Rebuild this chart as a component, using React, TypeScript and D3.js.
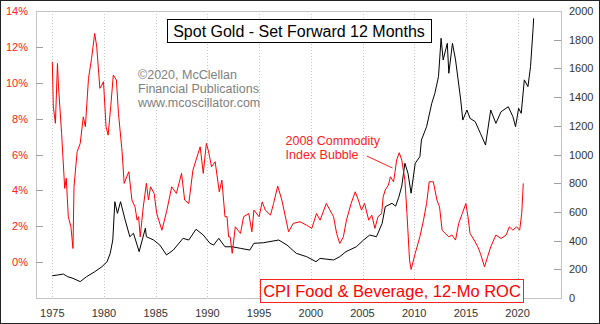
import React from "react";
import * as d3 from "d3";

const goldDates = [1975.0,1975.5,1976.07,1976.5,1977.0,1977.7,1978.3,1979.1,1979.8,1980.3,1980.6,1980.85,1981.05,1981.3,1981.6,1982.05,1982.5,1982.85,1983.4,1984.0,1984.1,1984.8,1985.4,1986.05,1986.7,1987.65,1988.2,1988.9,1989.6,1990.25,1990.6,1991.1,1991.7,1992.4,1993.2,1994.1,1994.5,1995.4,1996.9,1997.7,1998.6,1999.6,2000.5,2000.9,2002.2,2002.8,2003.4,2004.4,2005.1,2005.7,2006.35,2006.9,2007.2,2007.85,2008.2,2008.5,2008.8,2009.1,2009.4,2009.7,2010.1,2010.55,2010.7,2011.2,2011.7,2012.0,2012.35,2012.6,2012.8,2013.2,2013.35,2013.7,2014.0,2014.5,2014.7,2015.1,2015.4,2015.9,2016.4,2016.9,2017.4,2017.9,2018.4,2019.1,2019.55,2019.8,2020.1,2020.35,2020.65,2021.0,2021.25,2021.5,2021.55];
const goldValues = [155,160,167,148,137,114,148,183,218,253,311,404,671,590,671,543,427,451,323,486,427,404,369,300,334,416,404,479,439,381,369,416,357,357,346,334,381,385,404,369,311,288,253,276,265,288,323,357,404,439,427,520,636,660,640,700,780,939,869,730,939,985,1101,1194,1357,1427,1543,1810,1659,1775,1566,1775,1659,1380,1240,1310,1252,1229,1148,1066,1310,1217,1298,1333,1263,1194,1322,1287,1520,1473,1612,1880,1949];

const cpiDates = [1975.0,1975.1,1975.3,1975.5,1975.6,1975.9,1976.2,1976.35,1976.55,1976.8,1977.0,1977.1,1977.4,1977.7,1978.0,1978.2,1978.5,1978.8,1979.1,1979.3,1979.6,1979.8,1979.95,1980.2,1980.4,1980.65,1980.9,1981.2,1981.4,1981.75,1981.95,1982.2,1982.4,1982.7,1983.0,1983.2,1983.35,1983.5,1983.8,1984.1,1984.3,1984.5,1984.85,1985.1,1985.6,1986.05,1986.55,1987.0,1987.5,1987.8,1988.2,1988.6,1989.1,1989.3,1989.6,1989.9,1990.1,1990.4,1990.75,1991.15,1991.4,1991.7,1991.9,1992.05,1992.2,1992.4,1992.7,1993.2,1993.5,1994.0,1994.3,1994.5,1995.0,1995.3,1995.6,1996.1,1996.4,1996.8,1997.2,1997.85,1998.3,1998.95,1999.6,2000.1,2000.55,2000.9,2001.5,2001.85,2002.2,2002.5,2002.8,2003.15,2003.45,2003.9,2004.3,2004.6,2004.9,2005.2,2005.6,2005.9,2006.2,2006.5,2006.85,2007.0,2007.2,2007.5,2007.7,2008.0,2008.15,2008.3,2008.55,2008.8,2009.1,2009.3,2009.55,2009.7,2010.1,2010.55,2010.9,2011.2,2011.45,2011.85,2012.2,2012.45,2012.7,2013.0,2013.35,2013.65,2014.0,2014.3,2014.65,2015.0,2015.2,2015.4,2015.8,2016.15,2016.4,2016.8,2017.1,2017.4,2017.9,2018.4,2018.9,2019.2,2019.55,2019.9,2020.2,2020.4,2020.55];
const cpiValues = [11.17,8.66,7.74,11.08,9.78,7.18,4.11,4.67,2.53,1.97,0.76,4.2,6.15,6.62,8.1,7.55,10.24,11.36,12.75,12.0,9.69,9.87,10.06,7.55,7.08,8.66,10.43,10.15,8.29,6.15,4.39,4.76,5.04,3.46,3.08,2.34,2.53,1.41,3.08,4.39,3.46,4.2,3.83,2.71,1.78,2.81,4.2,3.83,4.95,3.46,3.27,5.13,6.06,6.43,4.95,6.62,6.2,5.32,5.6,3.92,4.57,2.53,2.53,1.41,1.41,0.49,1.97,1.6,2.53,2.71,1.69,2.9,2.53,3.36,2.9,2.62,3.27,4.24,3.46,1.69,2.16,2.25,2.06,1.88,2.71,2.34,3.27,2.9,2.53,1.6,1.04,1.41,2.34,3.27,3.92,3.46,2.9,3.27,2.34,2.62,1.88,2.53,2.71,3.64,4.02,4.29,4.76,4.48,5.04,5.69,6.1,5.69,4.57,2.71,0.11,-0.41,0.49,1.41,2.34,3.27,4.48,4.48,3.46,3.08,1.78,1.6,1.41,1.51,1.23,2.16,2.71,3.27,2.53,1.6,1.23,0.85,0.49,-0.26,0.3,0.85,1.51,1.32,1.51,1.97,1.78,1.97,1.78,2.71,4.39];

const yearTicks = [1975,1980,1985,1990,1995,2000,2005,2010,2015,2020];
const pctTicks = [0,2,4,6,8,10,12,14];
const goldTicks = [0,200,400,600,800,1000,1200,1400,1600,1800,2000];

const titleText = "Spot Gold - Set Forward 12 Months";
const legendText = "CPI Food & Beverage, 12-Mo ROC";
const copyrightLines = ["\u00A92020, McClellan", "Financial Publications", "www.mcoscillator.com"];
const annotationLines = ["2008 Commodity", "Index Bubble"];

const W = 600, H = 324;
const L = 36, R = 561, T = 11, B = 298;
const FONT = "Arial, 'Liberation Sans', sans-serif";

export default function App() {
  const x = d3.scaleLinear().domain([1975, 2020]).range([52.3, 517.6]);
  const yL = d3.scaleLinear().domain([-2, 14]).range([B, T]);
  const yR = d3.scaleLinear().domain([0, 2000]).range([B, T]);

  const goldLine = d3.line<number>().x((d, i) => x(goldDates[i])).y((d) => yR(d));
  const cpiLine = d3.line<number>().x((d, i) => x(cpiDates[i])).y((d) => yL(d));

  return (
    <svg width={W} height={H} style={{ position: "absolute", left: 0, top: 0, background: "#fff" }} fontFamily={FONT}>
      <rect x={0} y={0} width={W} height={H} fill="#fff" />
      <rect x={0.5} y={0.5} width={W - 1} height={H - 1} fill="none" stroke="#222" />
      {yearTicks.map((t) => (
        <line key={"g" + t} x1={Math.round(x(t)) + 0.5} x2={Math.round(x(t)) + 0.5} y1={T} y2={B} stroke="#c8c8c8" strokeDasharray="1,2" />
      ))}
      <rect x={L + 0.5} y={T + 0.5} width={R - L} height={B - T} fill="none" stroke="#c4c4c4" />
      {pctTicks.filter((t) => t > -2 && t < 14).map((t) => (
        <line key={"lt" + t} x1={L} x2={L + 7} y1={Math.round(yL(t)) + 0.5} y2={Math.round(yL(t)) + 0.5} stroke="#a0a0a0" />
      ))}
      {goldTicks.filter((t) => t > 0 && t < 2000).map((t) => (
        <line key={"rt" + t} x1={R - 7} x2={R} y1={Math.round(yR(t)) + 0.5} y2={Math.round(yR(t)) + 0.5} stroke="#a0a0a0" />
      ))}
      {pctTicks.map((t) => (
        <text key={"ll" + t} x={28} y={yL(t) + 4} textAnchor="end" fontSize={11} fill="#ff2020">{t + "%"}</text>
      ))}
      {goldTicks.map((t) => (
        <text key={"rl" + t} x={569} y={yR(t) + 4} textAnchor="start" fontSize={11} fill="#333">{t}</text>
      ))}
      {yearTicks.map((t) => (
        <text key={"yl" + t} x={x(t)} y={317} textAnchor="middle" fontSize={11} fill="#333">{t}</text>
      ))}
      <path d={goldLine(goldValues) || ""} fill="none" stroke="#000" strokeWidth={1} />
      <path d={cpiLine(cpiValues) || ""} fill="none" stroke="#ff0000" strokeWidth={1} />
      <rect x={167.5} y={19.5} width={264} height={23} fill="#fff" stroke="#000" />
      <text x={299} y={36.5} textAnchor="middle" fontSize={16} fill="#000">{titleText}</text>
      {copyrightLines.map((s, i) => (
        <text key={"c" + i} x={138} y={79 + i * 14} fontSize={12.5} fill="#808080">{s}</text>
      ))}
      {annotationLines.map((s, i) => (
        <text key={"a" + i} x={285.5} y={145 + i * 13.5} fontSize={12.5} fill="#ff2020">{s}</text>
      ))}
      <line x1={366.7} y1={156} x2={392.5} y2={168} stroke="#ff2020" />
      <rect x={260.5} y={279.5} width={263} height={23} fill="#fff" stroke="#ff2020" />
      <text x={392} y={296.5} textAnchor="middle" fontSize={16.5} fill="#ff0000">{legendText}</text>
    </svg>
  );
}
